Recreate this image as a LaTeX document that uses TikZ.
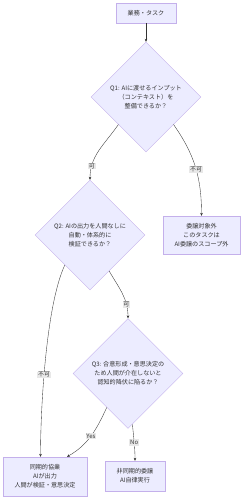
\documentclass[tikz,border=0pt]{standalone}
\usepackage{fontspec}
\setmainfont{Noto Sans CJK JP}
\usetikzlibrary{arrows.meta, shapes.geometric}
\definecolor{mmfill}{HTML}{ECECFF}
\definecolor{mmborder}{HTML}{9370DB}
\definecolor{mmline}{HTML}{333333}
\definecolor{mmlabel}{HTML}{E8E8E8}
\definecolor{mmtext}{HTML}{333333}

\tikzset{
  mmbox/.style={draw=mmborder!55, fill=mmfill, line width=0.4pt, inner sep=0pt,
    align=center, font=\fontsize{6.1}{9}\selectfont, text=mmtext},
  mmdec/.style={mmbox, shape=diamond, minimum width=110pt, minimum height=110pt},
  mmedge/.style={draw=mmline, line width=0.35pt, -{Stealth[length=3pt,width=2.6pt]}},
  mmlbl/.style={fill=mmlabel, font=\fontsize{6}{7}\selectfont, text=mmtext, inner sep=0.8pt},
}

\begin{document}
\begin{tikzpicture}[x=1pt, y=1pt]
\useasboundingbox (0,0) rectangle (243,500);
\fill[white] (0,0) rectangle (243,500);

% nodes
\node[mmbox, minimum width=60pt, minimum height=20pt] (task) at (146,487) {業務・タスク};
\node[mmdec] (q1) at (146,403) {Q1: AIに渡せるインプット\\（コンテキスト）を\\整備できるか？};
\node[mmdec] (q2) at (90,265) {Q2: AIの出力を人間なしに\\自動・体系的に\\検証できるか？};
\node[mmbox, minimum width=77pt, minimum height=38pt] (outscope) at (201.5,265) {委譲対象外\\このタスクは\\AI委譲のスコープ外};
\node[mmdec] (q3) at (128,126.5) {Q3: 合意形成・意思決定の\\ため人間が介在しないと\\認知的降伏に陥るか？};
\node[mmbox, minimum width=84pt, minimum height=39pt] (sync) at (45,23.5) {同期的協業\\AIが出力\\人間が検証・意思決定};
\node[mmbox, minimum width=60pt, minimum height=30pt] (async) at (135,24) {非同期的委譲\\AI自律実行};

% edges
\draw[mmedge] (task) -- (q1);
\draw[mmedge] (q1.south west) to[out=-125, in=90] node[mmlbl, pos=0.79] {可} (q2.north);
\draw[mmedge] (q1.south east) to[out=-55, in=90] node[mmlbl, pos=0.52] {不可} (outscope.north);
\draw[mmedge] (q2.-62) to[out=-60, in=90] node[mmlbl, pos=0.74] {可} (q3.north);
\draw[mmedge] (q2.-130) to[out=-115, in=90, looseness=0.6] node[mmlbl, pos=0.57] {不可} ([xshift=-4.5pt]sync.north);
\draw[mmedge] (q3.-122) to[out=-115, in=30] node[mmlbl, pos=0.5] {Yes} ([xshift=22pt]sync.north);
\draw[mmedge] (q3.-85) to[out=-85, in=90] node[mmlbl, pos=0.5] {No} (async.north);
\end{tikzpicture}
\end{document}
